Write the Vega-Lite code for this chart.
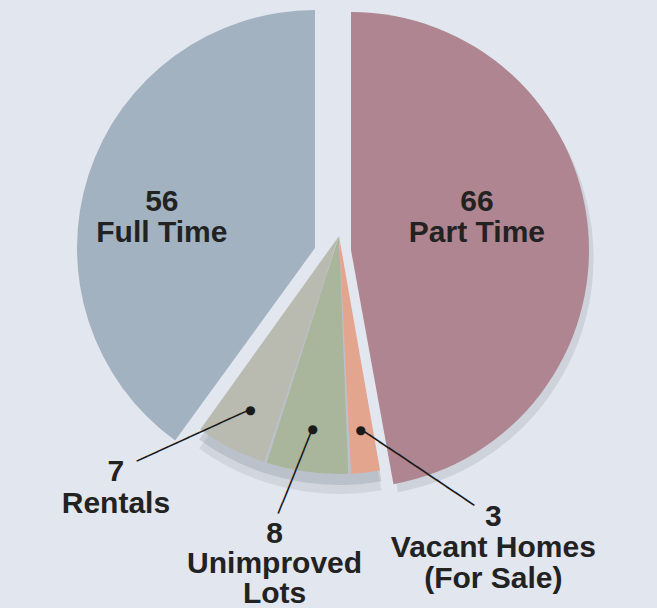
{
  "$schema": "https://vega.github.io/schema/vega-lite/v6.json",
  "width": 657,
  "height": 510,
  "autosize": {"type": "none"},
  "padding": {"left": 0, "top": 0, "right": 0, "bottom": 98},
  "background": "#e2e6ee",
  "config": {"view": {"stroke": null}},
  "data": {
    "values": [
      {"idx": 1, "label": "Part Time", "value": 66, "txt": "66\nPart Time"},
      {"idx": 2, "label": "Vacant Homes (For Sale)", "value": 3, "txt": "3\nVacant Homes\n(For Sale)"},
      {"idx": 3, "label": "Unimproved Lots", "value": 8, "txt": "8\nUnimproved\nLots"},
      {"idx": 4, "label": "Rentals", "value": 7, "txt": "7\nRentals"},
      {"idx": 5, "label": "Full Time", "value": 56, "txt": "56\nFull Time"}
    ]
  },
  "encoding": {
    "theta": {"field": "value", "type": "quantitative", "stack": true},
    "order": {"field": "idx", "type": "quantitative"},
    "detail": {"field": "label", "type": "nominal"}
  },
  "layer": [
    {
      "mark": {"type": "arc", "radius": 238, "xOffset": 10.5, "yOffset": 1, "fill": "#7d8490"},
      "encoding": {"opacity": {"condition": {"test": "datum.value < 10", "value": 0.16}, "value": 0}}
    },
    {
      "mark": {"type": "arc", "radius": 238, "xOffset": 10.5, "yOffset": -8, "fill": "#7d8490"},
      "encoding": {"opacity": {"condition": {"test": "datum.value < 10", "value": 0.25}, "value": 0}}
    },
    {
      "mark": {"type": "arc", "radius": 238, "xOffset": 27, "yOffset": 3, "fill": "#7d8490"},
      "encoding": {"opacity": {"condition": {"test": "datum.label == 'Part Time'", "value": 0.2}, "value": 0}}
    },
    {
      "mark": {"type": "arc", "radius": 238, "xOffset": -13.5, "yOffset": -7},
      "encoding": {
        "color": {"field": "label", "type": "nominal", "legend": null,
          "scale": {"domain": ["Part Time", "Vacant Homes (For Sale)", "Unimproved Lots", "Rentals", "Full Time"],
                    "range": ["#ae8590", "#e4a58f", "#a9b69b", "#b9bab0", "#a2b2c1"]}},
        "opacity": {"condition": {"test": "datum.label == 'Full Time'", "value": 1}, "value": 0}
      }
    },
    {
      "mark": {"type": "arc", "radius": 238, "xOffset": 22.5, "yOffset": -5},
      "encoding": {
        "color": {"field": "label", "type": "nominal", "legend": null},
        "opacity": {"condition": {"test": "datum.label == 'Part Time'", "value": 1}, "value": 0}
      }
    },
    {
      "mark": {"type": "arc", "radius": 238, "xOffset": 10.5, "yOffset": -19, "padAngle": 0.012},
      "encoding": {
        "color": {"field": "label", "type": "nominal", "legend": null},
        "opacity": {"condition": {"test": "datum.value < 10", "value": 1}, "value": 0}
      }
    },
    {
      "mark": {"type": "text", "radius": 170, "xOffset": -5, "yOffset": 0, "font": "Liberation Sans", "fontWeight": "bold", "fontSize": 30, "lineHeight": 31, "lineBreak": "\n", "fill": "#222222"},
      "encoding": {"text": {"condition": {"test": "datum.label == 'Full Time'", "field": "txt"}, "value": ""}}
    },
    {
      "mark": {"type": "text", "radius": 151, "xOffset": -2, "yOffset": -39, "font": "Liberation Sans", "fontWeight": "bold", "fontSize": 30, "lineHeight": 31, "lineBreak": "\n", "fill": "#222222"},
      "encoding": {"text": {"condition": {"test": "datum.label == 'Part Time'", "field": "txt"}, "value": ""}}
    },
    {
      "mark": {"type": "text", "radius": 303, "xOffset": -75, "yOffset": -53, "font": "Liberation Sans", "fontWeight": "bold", "fontSize": 30, "lineHeight": 32, "lineBreak": "\n", "fill": "#222222"},
      "encoding": {"text": {"condition": {"test": "datum.label == 'Rentals'", "field": "txt"}, "value": ""}}
    },
    {
      "mark": {"type": "text", "radius": 312, "xOffset": -12, "yOffset": -30, "font": "Liberation Sans", "fontWeight": "bold", "fontSize": 30, "lineHeight": 30, "lineBreak": "\n", "fill": "#222222"},
      "encoding": {"text": {"condition": {"test": "datum.label == 'Unimproved Lots'", "field": "txt"}, "value": ""}}
    },
    {
      "mark": {"type": "text", "radius": 311, "xOffset": 130, "yOffset": -47, "font": "Liberation Sans", "fontWeight": "bold", "fontSize": 30, "lineHeight": 31, "lineBreak": "\n", "fill": "#222222"},
      "encoding": {"text": {"condition": {"test": "datum.label == 'Vacant Homes (For Sale)'", "field": "txt"}, "value": ""}}
    },
    {
      "mark": {"type": "text", "radius": 195, "xOffset": 10.5, "yOffset": -19, "font": "DejaVu Sans", "fontSize": 12, "fill": "#1a1a1a"},
      "encoding": {"text": {"condition": {"test": "datum.value < 10", "value": "●"}, "value": ""}}
    },
    {
      "mark": {"type": "text", "radius": 220, "xOffset": -34.3, "yOffset": -15.6, "angle": 335.5, "font": "DejaVu Sans Mono", "fontSize": 19, "fill": "#1a1a1a"},
      "encoding": {"text": {"condition": {"test": "datum.label == 'Rentals'", "value": "───────────"}, "value": ""}}
    },
    {
      "mark": {"type": "text", "radius": 218, "xOffset": -3.3, "yOffset": 0, "angle": 292, "font": "DejaVu Sans Mono", "fontSize": 19, "fill": "#1a1a1a"},
      "encoding": {"text": {"condition": {"test": "datum.label == 'Unimproved Lots'", "value": "────────"}, "value": ""}}
    },
    {
      "mark": {"type": "text", "radius": 215, "xOffset": 64.3, "yOffset": -1.3, "angle": 33.8, "font": "DejaVu Sans Mono", "fontSize": 19, "fill": "#1a1a1a"},
      "encoding": {"text": {"condition": {"test": "datum.label == 'Vacant Homes (For Sale)'", "value": "────────────"}, "value": ""}}
    }
  ]
}
